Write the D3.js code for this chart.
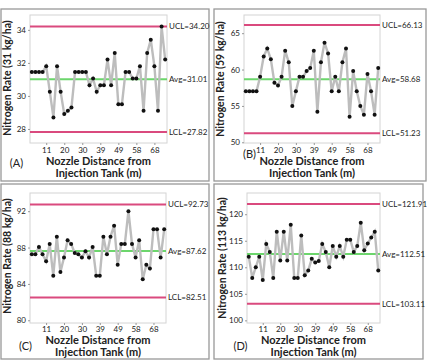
<!DOCTYPE html>
<html lang="en">
<head>
    <meta charset="UTF-8">
    <title>Control charts</title>
    <script src="https://d3js.org/d3.v7.min.js"></script>
    <style>
        body { margin: 0; background: #fff; }
        text { font-family: Lato, "Open Sans", sans-serif; fill: #222; }
    </style>
</head>
<body>
<svg width="427" height="361"></svg>

<script>
    // x tick labels sit on every 5th nozzle
    const tickLabels = ["11", "20", "30", "39", "49", "58", "68"];

    const rateA = [31.45, 31.45, 31.45, 31.45, 31.8, 30.25, 28.7, 31.8, 30.25, 28.9,
        29.1, 29.3, 31.45, 31.45, 31.45, 31.45, 30.65, 31.05, 30.25, 30.65,
        30.65, 32.2, 30.65, 32.6, 29.5, 29.5, 31.45, 31.45, 31.05, 31.05,
        31.8, 29.1, 32.6, 33.4, 31.8, 29.1, 34.2, 32.2];
    const rateB = [57, 57, 57, 57, 59, 61.8, 62.9, 61.4, 58.2, 57.8,
        59, 62.6, 61, 55, 57, 59, 59, 59.8, 60.2, 62.6,
        54.2, 61, 63.7, 62.2, 57, 59, 57, 61, 62.9, 53.5,
        59.8, 57, 55, 53.8, 59.4, 57, 53.8, 60.2];
    const rateC = [87.27, 87.27, 88.07, 87.27, 86.5, 88.4, 84.9, 89.2, 85.3, 86.9,
        88.8, 88.4, 87.4, 87.27, 86.9, 87.6, 86.9, 88.07, 84.9, 84.9,
        89.2, 87.27, 89.2, 90.4, 86.1, 88.4, 88.4, 92, 88.4, 86.9,
        88.8, 84.5, 86.1, 85.7, 90, 90, 86.9, 90];
    const rateD = [112, 108, 110, 112, 107.6, 114.4, 112.9, 108, 116.7, 111.3,
        116.7, 111.3, 118, 108, 108, 116, 108.5, 109.4, 111.6, 110.9,
        111.2, 114.4, 112.9, 110, 114, 112, 114, 112, 115.2, 115.2,
        112.9, 114, 118.4, 113.2, 114.5, 115.6, 116.7, 109.4];

    const ucl = [34.20, 66.13, 92.73, 121.91];
    const avg = [31.01, 58.68, 87.62, 112.51];
    const lcl = [27.82, 51.23, 82.51, 103.11];
    const targets = [31, 59, 88, 113];
    const panelNames = ["(A)", "(B)", "(C)", "(D)"];
    const yDomains = [[27.15, 34.9], [49.9, 67.5], [79.7, 94], [99.5, 124]];
    const yTicks = [[28, 30, 32, 34], [50, 55, 60, 65], [80, 84, 88, 92], [100, 105, 110, 115, 120]];

    const series = [rateA, rateB, rateC, rateD];

    // layout of the four panels
    const layout = [
        {frame: [1, 9, 209, 181], plot: [30, 15, 167, 143], letter: [16.5, 166.5], ytitle: [11, 78], xt: [10, 22, 33.5]},
        {frame: [214, 9, 426, 181], plot: [244, 15, 380, 143], letter: [249.5, 158], ytitle: [224, 79], xt: [10, 22, 33.5]},
        {frame: [1, 184, 209, 359], plot: [30, 193, 166, 323], letter: [25.5, 350], ytitle: [11, 256], xt: [9, 20.5, 32.5]},
        {frame: [214, 184, 423, 359], plot: [247, 193, 380, 323], letter: [240.5, 350], ytitle: [226, 258], xt: [9, 20.5, 32.5]}
    ];

    const svg = d3.select("svg");

    series.forEach((vals, i) => {
        const L = layout[i];
        const [fx0, fy0, fx1, fy1] = L.frame;
        const [px0, py0, px1, py1] = L.plot;

        svg.append("rect")
            .attr("x", fx0).attr("y", fy0)
            .attr("width", fx1 - fx0).attr("height", fy1 - fy0)
            .attr("fill", "none").attr("stroke", "#999").attr("stroke-width", 1.3);

        const x = d3.scalePoint()
            .domain(d3.range(vals.length))
            .range([px0, px1])
            .padding(0.5);
        const y = d3.scaleLinear()
            .domain(yDomains[i])
            .range([py1, py0]);

        const g = svg.append("g");

        g.append("rect")
            .attr("x", px0).attr("y", py0)
            .attr("width", px1 - px0).attr("height", py1 - py0)
            .attr("fill", "#fff").attr("stroke", "#d4d4d4").attr("stroke-width", 1);

        // y axis
        const yAxis = g.append("g")
            .attr("transform", `translate(${px0},0)`)
            .call(d3.axisLeft(y).tickValues(yTicks[i]).tickSize(2).tickPadding(2));
        yAxis.select(".domain").remove();
        yAxis.selectAll("line").attr("stroke", "#999");
        yAxis.selectAll("text").attr("font-size", 8).attr("fill", "#333")
            .style("font-family", "Lato, sans-serif");

        // x axis, labels on every 5th nozzle
        const xTickIdx = tickLabels.map((t, k) => 4 + k * 5);
        const xAxis = g.append("g")
            .attr("transform", `translate(0,${py1})`)
            .call(d3.axisBottom(x).tickValues(xTickIdx)
                .tickFormat((d, k) => tickLabels[k]).tickSize(2).tickPadding(L.xt[0] - 8));
        xAxis.select(".domain").remove();
        xAxis.selectAll("line").attr("stroke", "#999");
        xAxis.selectAll("text").attr("font-size", 8).attr("fill", "#333")
            .style("font-family", "Lato, sans-serif");

        // control limits
        const limits = [
            {v: ucl[i], name: "UCL", color: "#da4a7e"},
            {v: avg[i], name: "Avg", color: "#6cd66c"},
            {v: lcl[i], name: "LCL", color: "#da4a7e"}
        ];
        g.selectAll(".lim")
            .data(limits)
            .enter()
            .append("line")
            .attr("x1", px0).attr("x2", px1)
            .attr("y1", d => y(d.v)).attr("y2", d => y(d.v))
            .attr("stroke", d => d.color).attr("stroke-width", 2);
        g.selectAll(".limtxt")
            .data(limits)
            .enter()
            .append("text")
            .attr("x", px1 + 2)
            .attr("y", d => y(d.v))
            .attr("dy", "0.35em")
            .attr("font-size", 8)
            .attr("fill", "#333")
            .text(d => `${d.name}=${d.v.toFixed(2)}`);

        // data line and points
        g.append("path")
            .datum(vals)
            .attr("fill", "none")
            .attr("stroke", "#bdbdbd")
            .attr("stroke-width", 2.4)
            .attr("d", d3.line().x((d, k) => x(k)).y(d => y(d)));
        g.selectAll("circle")
            .data(vals)
            .enter()
            .append("circle")
            .attr("cx", (d, k) => x(k))
            .attr("cy", d => y(d))
            .attr("r", 2)
            .attr("fill", "#111");

        // titles
        const cx = (px0 + px1) / 2;
        g.append("text")
            .attr("x", cx).attr("y", py1 + L.xt[1])
            .attr("text-anchor", "middle").attr("font-size", 11).attr("font-weight", "bold")
            .text("Nozzle Distance from");
        g.append("text")
            .attr("x", cx).attr("y", py1 + L.xt[2])
            .attr("text-anchor", "middle").attr("font-size", 11).attr("font-weight", "bold")
            .text("Injection Tank (m)");
        g.append("text")
            .attr("transform", `translate(${L.ytitle[0]},${L.ytitle[1]}) rotate(-90)`)
            .attr("text-anchor", "middle").attr("font-size", 10.5).attr("font-weight", "bold")
            .text(`Nitrogen Rate (${targets[i]} kg/ha)`);
        g.append("text")
            .attr("x", L.letter[0]).attr("y", L.letter[1])
            .attr("text-anchor", "middle").attr("font-size", 11)
            .text(panelNames[i]);
    });
</script>
</body>
</html>
